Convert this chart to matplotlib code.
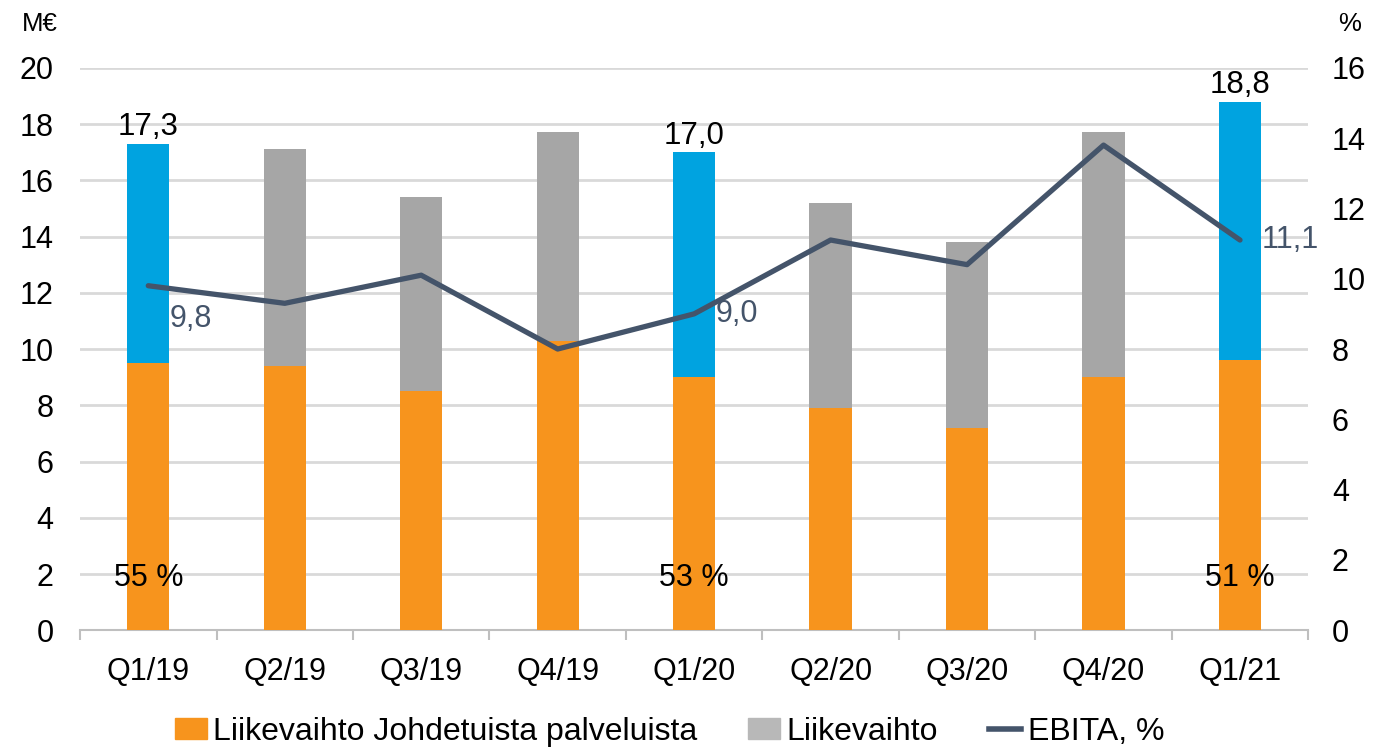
import matplotlib.pyplot as plt
import numpy as np
from matplotlib.patches import Patch
from matplotlib.lines import Line2D

plt.rcParams["font.family"] = ["Liberation Sans", "DejaVu Sans"]

quarters = ["Q1/19", "Q2/19", "Q3/19", "Q4/19", "Q1/20", "Q2/20", "Q3/20", "Q4/20", "Q1/21"]
johdetut = [9.5, 9.4, 8.5, 10.3, 9.0, 7.9, 7.2, 9.0, 9.6]
liikevaihto = [17.3, 17.1, 15.4, 17.7, 17.0, 15.2, 13.8, 17.7, 18.8]
ebita = [9.8, 9.3, 10.1, 8.0, 9.0, 11.1, 10.4, 13.8, 11.1]
highlight = [True, False, False, False, True, False, False, False, True]
share_labels = {0: "55 %", 4: "53 %", 8: "51 %"}
# vertical offset (right axis units) of the EBITA labels
ebita_label_dy = {0: -0.95, 4: 0.0, 8: 0.0}

ORANGE = "#F7941D"
GRAY = "#A6A6A6"
BLUE = "#00A3E0"
LINE = "#44546A"

fig = plt.figure(figsize=(13.8, 7.53), dpi=100)
ax = fig.add_axes([0.058, 0.163, 0.89, 0.747])
ax2 = ax.twinx()

x = np.arange(len(quarters))
w = 0.31
for i in x:
    col = BLUE if highlight[i] else GRAY
    ax.bar(i, liikevaihto[i], width=w, color=col, zorder=2)
    ax.bar(i, johdetut[i], width=w, color=ORANGE, zorder=3)
    if highlight[i]:
        ax.text(i, liikevaihto[i] + 0.05, f"{liikevaihto[i]:.1f}".replace(".", ","),
                ha="center", va="bottom", fontsize=22.5, color="black", zorder=5)
        ax2.text(i + 0.16, ebita[i] + ebita_label_dy[i], f"{ebita[i]:.1f}".replace(".", ","),
                 ha="left", va="center", fontsize=22, color=LINE, zorder=5)
for i, s in share_labels.items():
    ax.text(i, 1.85, s, ha="center", va="center", fontsize=22, color="black", zorder=5)

ax2.plot(x, ebita, color=LINE, lw=3.8, solid_capstyle="round", zorder=4)

ax.set_xlim(-0.5, len(quarters) - 0.5)
ax.set_ylim(0, 20)
ax2.set_ylim(0, 16)
ax.set_yticks(np.arange(0, 21, 2))
ax2.set_yticks(np.arange(0, 17, 2))
ax.yaxis.grid(True, color="#D9D9D9", lw=2, zorder=0)
ax.set_axisbelow(True)

ax.set_xticks(x)
ax.set_xticklabels(quarters)
ax.set_xticks(np.arange(-0.5, len(quarters), 1), minor=True)
ax.tick_params(axis="x", which="major", length=0, labelsize=22, pad=19)
ax.tick_params(axis="x", which="minor", length=7, color="#BFBFBF", width=1.5)
ax.tick_params(axis="y", length=0, labelsize=22, pad=19)
ax2.tick_params(axis="y", length=0, labelsize=22, pad=17)

for a in (ax, ax2):
    for sp in ("top", "left", "right"):
        a.spines[sp].set_visible(False)
ax.spines["bottom"].set_color("#BFBFBF")
ax.spines["bottom"].set_linewidth(1.5)
ax2.spines["bottom"].set_visible(False)

ax.set_zorder(1)
ax2.set_zorder(2)
ax2.patch.set_visible(False)

fig.text(0.016, 0.968, "M€", fontsize=18.5, ha="left", va="center")
fig.text(0.986, 0.968, "%", fontsize=18.5, ha="right", va="center")

handles = [
    Patch(color=ORANGE),
    Patch(color="#B8B8B8"),
    Line2D([0], [0], color=LINE, lw=4),
]
labels = ["Liikevaihto Johdetuista palveluista", "Liikevaihto", "EBITA, %"]
fig.legend(handles, labels, loc="lower center", bbox_to_anchor=(0.485, -0.03), ncol=3,
           frameon=False, fontsize=23, handlelength=1.0, handleheight=0.6,
           handletextpad=0.2, columnspacing=1.6)

fig.savefig("out.png", dpi=100)
